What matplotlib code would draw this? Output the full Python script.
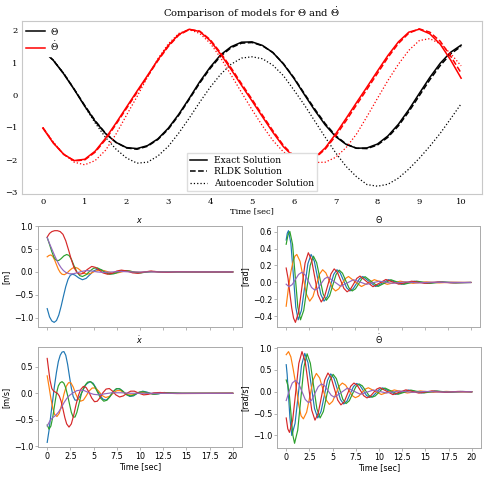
import matplotlib
matplotlib.use('Agg')
import matplotlib.pyplot as plt
from matplotlib.lines import Line2D
from matplotlib.font_manager import FontProperties

# ---------------- top panel: pendulum, 0..10 s ----------------
t_top = [0.0, 0.25, 0.5, 0.75, 1.0, 1.25, 1.5, 1.75, 2.0, 2.25, 2.5, 2.75, 3.0, 3.25,
         3.5, 3.75, 4.0, 4.25, 4.5, 4.75, 5.0, 5.25, 5.5, 5.75, 6.0, 6.25, 6.5, 6.75,
         7.0, 7.25, 7.5, 7.75, 8.0, 8.25, 8.5, 8.75, 9.0, 9.25, 9.5, 9.75, 10.0]
theta_exact = [1.38, 1.07, 0.65, 0.17, -0.34, -0.81, -1.19, -1.46, -1.62, -1.65, -1.56, -1.35,
               -1.02, -0.59, -0.10, 0.41, 0.86, 1.24, 1.49, 1.63, 1.64, 1.53, 1.31, 0.96,
               0.52, 0.02, -0.47, -0.92, -1.28, -1.52, -1.64, -1.63, -1.51, -1.26, -0.90,
               -0.45, 0.05, 0.54, 0.98, 1.32, 1.54]
theta_rldk = [1.38, 1.07, 0.66, 0.18, -0.32, -0.79, -1.18, -1.46, -1.63, -1.67, -1.58, -1.37,
              -1.05, -0.62, -0.13, 0.37, 0.82, 1.20, 1.46, 1.60, 1.62, 1.52, 1.31, 0.97,
              0.54, 0.05, -0.43, -0.88, -1.25, -1.51, -1.64, -1.65, -1.54, -1.30, -0.95,
              -0.51, -0.02, 0.47, 0.91, 1.27, 1.50]
theta_ae = [1.38, 1.08, 0.67, 0.18, -0.35, -0.86, -1.31, -1.67, -1.94, -2.10, -2.07, -1.88,
            -1.58, -1.17, -0.71, -0.22, 0.24, 0.64, 0.95, 1.14, 1.18, 1.12, 0.92, 0.60,
            0.16, -0.30, -0.80, -1.30, -1.78, -2.20, -2.52, -2.76, -2.81, -2.75, -2.56,
            -2.28, -1.95, -1.58, -1.18, -0.73, -0.27]
dtheta_exact = [-1.02, -1.48, -1.83, -2.02, -1.98, -1.73, -1.33, -0.86, -0.37, 0.12, 0.60,
                1.09, 1.53, 1.87, 2.03, 1.96, 1.68, 1.26, 0.79, 0.30, -0.18, -0.67, -1.15,
                -1.59, -1.91, -2.03, -1.93, -1.63, -1.20, -0.72, -0.23, 0.25, 0.74, 1.22,
                1.64, 1.94, 2.03, 1.89, 1.57, 1.08, 0.52]
dtheta_rldk = [-1.00, -1.47, -1.83, -2.03, -2.00, -1.76, -1.37, -0.90, -0.41, 0.08, 0.57,
               1.06, 1.50, 1.85, 2.02, 1.97, 1.71, 1.30, 0.84, 0.35, -0.13, -0.62, -1.10,
               -1.55, -1.88, -2.02, -1.95, -1.67, -1.26, -0.79, -0.30, 0.18, 0.67, 1.16,
               1.59, 1.91, 2.04, 1.94, 1.66, 1.20, 0.68]
dtheta_ae = [-1.00, -1.45, -1.82, -2.07, -2.15, -2.02, -1.70, -1.20, -0.62, -0.05, 0.55,
             1.12, 1.58, 1.90, 2.02, 1.90, 1.60, 1.15, 0.62, 0.08, -0.45, -0.95, -1.40,
             -1.75, -1.97, -2.05, -2.08, -2.07, -1.92, -1.62, -1.20, -0.66, -0.10, 0.45,
             0.95, 1.38, 1.68, 1.74, 1.58, 1.28, 0.90]
top_xticks = [0, 1, 2, 3, 4, 5, 6, 7, 8, 9, 10]

# ---------------- bottom panels: 5 runs each, 0..20 s ----------------
# x [m]
x_t_blue = [0, 0.25, 0.5, 0.75, 1.0, 1.25, 1.5, 1.75, 2.0, 2.25, 2.5, 2.75, 3.0, 3.4, 3.8, 4.2,
            4.6, 5.0, 5.4, 5.8, 6.3, 6.8, 7.3, 7.9, 8.5, 9.1, 9.7, 10.4, 11.2, 12, 14, 20]
x_blue = [-0.8, -0.98, -1.07, -1.1, -1.06, -0.94, -0.75, -0.53, -0.32, -0.16, -0.07, -0.05,
          -0.07, -0.13, -0.17, -0.14, -0.06, 0.02, 0.06, 0.05, 0.0, -0.04, -0.03, 0.02, 0.03,
          0.0, -0.02, -0.01, 0.01, 0, 0, 0]
x_t_orange = [0, 0.2, 0.4, 0.6, 0.8, 1.0, 1.2, 1.4, 1.6, 1.85, 2.1, 2.4, 2.7, 3.0, 3.3, 3.6,
              3.9, 4.3, 4.7, 5.1, 5.6, 6.1, 6.6, 7.1, 7.6, 8.2, 8.8, 9.4, 10.0, 11, 12, 14, 20]
x_orange = [0.33, 0.36, 0.37, 0.34, 0.26, 0.16, 0.06, -0.01, -0.05, -0.06, -0.03, 0.03, 0.08,
            0.1, 0.08, 0.03, -0.02, -0.05, -0.03, 0.01, 0.04, 0.03, 0.0, -0.03, -0.02, 0.01,
            0.02, 0.0, -0.01, 0.01, 0, 0, 0]
x_t_green = [0, 0.25, 0.5, 0.75, 1.0, 1.25, 1.5, 1.8, 2.1, 2.35, 2.6, 2.9, 3.2, 3.5, 3.8, 4.2,
             4.6, 5.0, 5.4, 5.8, 6.2, 6.7, 7.2, 7.7, 8.3, 8.9, 9.5, 10.1, 10.8, 11.6, 12.5, 14, 20]
x_green = [0.75, 0.6, 0.44, 0.31, 0.25, 0.25, 0.29, 0.35, 0.38, 0.36, 0.28, 0.13, 0.0, -0.08,
           -0.1, -0.06, 0.02, 0.08, 0.09, 0.05, -0.01, -0.05, -0.04, 0.0, 0.03, 0.02, -0.01,
           -0.02, 0.0, 0.01, 0, 0, 0]
x_t_red = [0, 0.25, 0.5, 0.8, 1.1, 1.4, 1.7, 2.0, 2.3, 2.6, 2.9, 3.2, 3.5, 3.9, 4.3, 4.8, 5.2,
           5.6, 6.0, 6.5, 7.0, 7.5, 8.0, 8.6, 9.2, 9.8, 10.5, 11.2, 12.0, 13.0, 14.0, 16.0, 20.0]
x_red = [0.76, 0.84, 0.88, 0.9, 0.9, 0.88, 0.82, 0.68, 0.48, 0.27, 0.09, -0.01, -0.05, -0.03,
         0.05, 0.12, 0.1, 0.04, -0.02, -0.05, -0.03, 0.02, 0.04, 0.02, -0.02, -0.03, 0.0, 0.02,
         0.0, -0.01, 0.005, 0, 0]
x_t_purple = [0, 0.25, 0.5, 0.75, 1.0, 1.25, 1.5, 1.75, 2.0, 2.4, 2.8, 3.2, 3.7, 4.2, 4.8, 5.4,
              6.0, 7, 8, 9, 20]
x_purple = [0.75, 0.62, 0.5, 0.38, 0.27, 0.17, 0.09, 0.03, -0.01, -0.04, -0.04, -0.02, 0.01,
            0.03, 0.02, 0.0, -0.01, 0.0, 0.01, 0, 0]

# theta [rad]
th_t_blue = [0, 0.12, 0.25, 0.51, 0.78, 1.04, 1.3, 1.65, 2.0, 2.35, 2.7, 3.05, 3.4, 3.75, 4.1,
             4.45, 4.8, 5.15, 5.5, 5.85, 6.2, 6.55, 6.9, 7.25, 7.6, 7.95, 8.3, 9.0, 9.7, 10.4,
             11.1, 11.8, 12.5, 13.9, 15.3, 16.7, 18.1, 20]
th_blue = [0.5, 0.58, 0.61, 0.46, 0.085, -0.29, -0.44, -0.33, -0.055, 0.22, 0.33, 0.25, 0.055,
           -0.14, -0.22, -0.166, -0.035, 0.096, 0.15, 0.113, 0.025, -0.063, -0.10, -0.075,
           -0.015, 0.045, 0.07, 0.011, -0.048, -0.008, 0.033, 0.006, -0.022, 0.015, -0.01,
           0.006, -0.004, 0]
th_t_orange = [0, 0.25, 0.5, 0.75, 0.95, 1.15, 1.5, 1.85, 2.2, 2.55, 2.9, 3.25, 3.6, 3.95, 4.3,
               4.65, 5.0, 5.35, 5.7, 6.05, 6.4, 6.75, 7.45, 8.15, 8.85, 9.55, 10.25, 10.95,
               12.35, 13.75, 15.15, 16.55, 17.95, 20]
th_orange = [-0.28, -0.06, 0.12, 0.25, 0.31, 0.33, 0.25, 0.055, -0.14, -0.22, -0.166, -0.035,
             0.096, 0.15, 0.113, 0.025, -0.063, -0.10, -0.075, -0.015, 0.045, 0.07, 0.011,
             -0.048, -0.008, 0.033, 0.006, -0.022, 0.015, -0.01, 0.007, -0.005, 0.003, 0]
th_t_green = [0, 0.2, 0.4, 0.69, 0.975, 1.26, 1.55, 1.9, 2.25, 2.6, 2.95, 3.3, 3.65, 4.0, 4.35,
              4.7, 5.05, 5.4, 5.75, 6.1, 6.45, 6.8, 7.15, 7.5, 7.85, 8.2, 8.55, 9.25, 9.95,
              10.65, 11.35, 12.05, 12.75, 14.15, 15.55, 16.95, 18.35, 20]
th_green = [0.45, 0.56, 0.6, 0.45, 0.08, -0.29, -0.44, -0.33, -0.065, 0.2, 0.31, 0.234, 0.05,
            -0.134, -0.21, -0.158, -0.032, 0.093, 0.145, 0.109, 0.022, -0.064, -0.10, -0.075,
            -0.016, 0.044, 0.068, 0.01, -0.047, -0.008, 0.032, 0.005, -0.022, 0.015, -0.01,
            0.006, -0.004, 0]
th_t_red = [0, 0.2, 0.4, 0.6, 0.8, 1.0, 1.35, 1.7, 2.05, 2.4, 2.75, 3.1, 3.45, 3.8, 4.15, 4.5,
            4.85, 5.2, 5.55, 5.9, 6.25, 6.6, 6.95, 7.3, 7.65, 8.0, 8.7, 9.4, 10.1, 10.8, 11.5,
            12.2, 13.6, 15.0, 16.4, 17.8, 20]
th_red = [0.17, 0.05, -0.13, -0.3, -0.42, -0.47, -0.35, -0.06, 0.23, 0.35, 0.265, 0.06, -0.145,
          -0.23, -0.17, -0.035, 0.10, 0.16, 0.12, 0.025, -0.07, -0.11, -0.083, -0.018, 0.048,
          0.075, 0.012, -0.05, -0.008, 0.035, 0.007, -0.02, 0.015, -0.01, 0.006, -0.004, 0]
th_t_purple = [0, 0.3, 0.65, 1.0, 1.35, 1.7, 2.05, 2.4, 2.75, 3.1, 3.45, 3.8, 4.15, 4.5, 5.2,
               5.9, 6.6, 7.3, 8.0, 8.7, 9.4, 10.1, 11.5, 12.9, 14.3, 15.7, 20]
th_purple = [-0.02, -0.05, -0.025, 0.035, 0.095, 0.12, 0.089, 0.015, -0.059, -0.09, -0.068,
             -0.012, 0.043, 0.065, 0.01, -0.045, -0.006, 0.032, 0.005, -0.022, -0.003, 0.015,
             -0.01, 0.007, -0.005, 0.003, 0]

# x dot [m/s]
xd_t_blue = [0, 0.2, 0.4, 0.6, 0.8, 1.0, 1.2, 1.4, 1.6, 1.8, 2.0, 2.2, 2.4, 2.6, 2.8, 3.0, 3.25,
             3.55, 3.85, 4.2, 4.6, 4.95, 5.3, 5.65, 6.0, 6.35, 6.7, 7.05, 7.4, 7.75, 8.1, 8.5,
             8.9, 9.3, 9.8, 10.3, 10.8, 11.4, 12.0, 12.6, 13.3, 14.5, 20]
xd_blue = [-0.93, -0.7, -0.4, -0.12, 0.16, 0.4, 0.6, 0.72, 0.78, 0.79, 0.72, 0.55, 0.32, 0.1,
           -0.06, -0.13, -0.13, -0.05, 0.06, 0.17, 0.22, 0.19, 0.09, -0.03, -0.11, -0.13, -0.08,
           0.01, 0.08, 0.09, 0.05, -0.02, -0.06, -0.05, 0.01, 0.04, 0.02, -0.02, -0.01, 0.015,
           0.005, 0, 0]
xd_t_orange = [0, 0.2, 0.4, 0.6, 0.8, 1.05, 1.3, 1.55, 1.8, 2.05, 2.3, 2.55, 2.8, 3.05, 3.3,
               3.6, 3.9, 4.2, 4.5, 4.85, 5.2, 5.55, 5.9, 6.3, 6.7, 7.1, 7.5, 7.9, 8.3, 8.7, 9.2,
               9.7, 10.2, 10.8, 11.5, 12.5, 14, 20]
xd_orange = [0.33, 0.12, -0.1, -0.28, -0.4, -0.44, -0.38, -0.22, -0.02, 0.13, 0.2, 0.2, 0.12,
             0.0, -0.1, -0.15, -0.13, -0.05, 0.04, 0.1, 0.1, 0.04, -0.04, -0.08, -0.06, 0.0,
             0.05, 0.05, 0.01, -0.03, -0.03, 0.01, 0.02, 0.0, -0.01, 0.005, 0, 0]
xd_t_green = [0, 0.2, 0.4, 0.6, 0.8, 1.0, 1.2, 1.4, 1.6, 1.8, 2.0, 2.2, 2.4, 2.6, 2.8, 3.0, 3.2,
              3.45, 3.7, 4.0, 4.35, 4.7, 5.05, 5.4, 5.75, 6.1, 6.45, 6.8, 7.15, 7.5, 7.85, 8.2,
              8.6, 9.0, 9.4, 9.9, 10.4, 11.0, 11.6, 12.3, 13, 14.5, 20]
xd_green = [-0.6, -0.68, -0.62, -0.45, -0.22, 0.0, 0.14, 0.2, 0.22, 0.19, 0.1, -0.04, -0.2,
            -0.36, -0.45, -0.45, -0.36, -0.18, 0.0, 0.13, 0.21, 0.22, 0.15, 0.03, -0.09, -0.15,
            -0.13, -0.05, 0.04, 0.09, 0.08, 0.03, -0.03, -0.05, -0.03, 0.02, 0.03, 0.0, -0.015,
            0.0, 0.01, 0, 0]
xd_t_red = [0, 0.15, 0.3, 0.5, 0.7, 0.9, 1.1, 1.3, 1.5, 1.7, 1.9, 2.1, 2.35, 2.6, 2.85, 3.1,
            3.35, 3.6, 3.9, 4.2, 4.5, 4.8, 5.1, 5.4, 5.7, 6.0, 6.35, 6.7, 7.05, 7.4, 7.8, 8.2,
            8.6, 9.0, 9.4, 9.9, 10.4, 10.9, 11.5, 12.2, 13, 14, 20]
xd_red = [0.66, 0.45, 0.25, 0.09, 0.04, 0.02, 0.0, -0.05, -0.15, -0.3, -0.46, -0.58, -0.64,
          -0.58, -0.42, -0.22, -0.05, 0.07, 0.13, 0.11, 0.02, -0.09, -0.16, -0.15, -0.08, 0.01,
          0.08, 0.09, 0.04, -0.03, -0.07, -0.05, 0.0, 0.04, 0.04, 0.0, -0.03, -0.02, 0.01,
          0.015, 0, -0.005, 0]
xd_t_purple = [0, 0.3, 0.6, 0.9, 1.2, 1.5, 1.8, 2.1, 2.4, 2.8, 3.2, 3.6, 4.0, 4.5, 5.0, 5.6,
               6.2, 7, 8, 9, 20]
xd_purple = [-0.62, -0.52, -0.46, -0.42, -0.36, -0.28, -0.18, -0.1, -0.04, 0.01, 0.05, 0.06,
             0.05, 0.01, -0.02, -0.03, -0.01, 0.01, 0.01, 0, 0]

# theta dot [rad/s]
thd_t_blue = [0, 0.1, 0.22, 0.4, 0.6, 0.95, 1.3, 1.65, 2.0, 2.35, 2.7, 3.05, 3.4, 3.75, 4.1,
              4.45, 4.8, 5.15, 5.5, 5.85, 6.2, 6.55, 6.9, 7.25, 7.6, 7.95, 8.3, 8.65, 9.0, 9.35,
              9.7, 10.05, 10.4, 11.1, 11.8, 12.5, 13.2, 13.9, 14.6, 16.0, 17.4, 18.8, 20]
thd_blue = [0.62, 0.4, 0.0, -0.6, -1.0, -0.726, -0.06, 0.606, 0.88, 0.664, 0.14, -0.384, -0.6,
            -0.452, -0.095, 0.262, 0.41, 0.309, 0.065, -0.179, -0.28, -0.211, -0.045, 0.121,
            0.19, 0.143, 0.03, -0.083, -0.13, -0.098, -0.02, 0.058, 0.09, 0.015, -0.06, -0.01,
            0.04, 0.007, -0.027, 0.018, -0.012, 0.008, 0]
thd_t_orange = [0, 0.25, 0.5, 0.75, 0.95, 1.15, 1.35, 1.6, 1.85, 2.2, 2.55, 2.9, 3.25, 3.6,
                3.95, 4.3, 4.65, 5.0, 5.35, 5.7, 6.05, 6.4, 6.75, 7.1, 7.45, 7.8, 8.15, 8.5,
                8.85, 9.55, 10.25, 10.95, 11.65, 12.35, 13.05, 14.45, 15.85, 17.25, 18.65, 20]
thd_orange = [0.85, 0.92, 0.8, 0.52, 0.27, 0.0, -0.3, -0.55, -0.62, -0.468, -0.1, 0.268, 0.42,
              0.317, 0.065, -0.187, -0.29, -0.219, -0.045, 0.129, 0.2, 0.151, 0.033, -0.086,
              -0.135, -0.102, -0.022, 0.059, 0.092, 0.015, -0.062, -0.01, 0.042, 0.007, -0.028,
              0.019, -0.013, 0.009, -0.006, 0]
thd_t_green = [0, 0.17, 0.35, 0.55, 0.72, 0.9, 1.24, 1.575, 1.91, 2.25, 2.6, 2.95, 3.3, 3.65,
               4.0, 4.35, 4.7, 5.05, 5.4, 5.75, 6.1, 6.45, 6.8, 7.15, 7.5, 7.85, 8.2, 8.55, 8.9,
               9.25, 9.6, 9.95, 10.3, 10.65, 11.35, 12.05, 12.75, 13.45, 14.15, 14.85, 16.25,
               17.65, 19.05, 20]
thd_green = [0.27, 0.15, -0.1, -0.6, -1.0, -1.18, -0.88, -0.155, 0.571, 0.87, 0.655, 0.135,
             -0.385, -0.6, -0.454, -0.1, 0.254, 0.4, 0.303, 0.065, -0.173, -0.27, -0.205,
             -0.045, 0.115, 0.18, 0.136, 0.028, -0.081, -0.125, -0.095, -0.02, 0.055, 0.085,
             0.014, -0.057, -0.01, 0.038, 0.006, -0.025, 0.016, -0.01, 0.006, 0]
thd_t_red = [0, 0.17, 0.35, 0.69, 1.025, 1.36, 1.7, 2.05, 2.4, 2.75, 3.1, 3.45, 3.8, 4.15, 4.5,
             4.85, 5.2, 5.55, 5.9, 6.25, 6.6, 6.95, 7.3, 7.65, 8.0, 8.35, 8.7, 9.05, 9.4, 9.75,
             10.1, 10.8, 11.5, 12.2, 12.9, 13.6, 14.3, 15.7, 17.1, 18.5, 20]
thd_red = [-0.6, -0.85, -0.93, -0.66, -0.005, 0.65, 0.92, 0.69, 0.135, -0.42, -0.65, -0.49,
           -0.11, 0.27, 0.43, 0.32, 0.065, -0.19, -0.3, -0.23, -0.05, 0.127, 0.2, 0.15, 0.03,
           -0.09, -0.14, -0.106, -0.022, 0.061, 0.095, 0.015, -0.065, -0.01, 0.044, 0.007,
           -0.03, 0.02, -0.013, 0.008, 0]
thd_t_purple = [0, 0.3, 0.65, 1.0, 1.35, 1.7, 2.05, 2.4, 2.75, 3.1, 3.45, 3.8, 4.15, 4.5, 4.85,
                5.2, 5.9, 6.6, 7.3, 8.0, 8.7, 9.4, 10.1, 10.8, 12.2, 13.6, 15.0, 16.4, 20]
thd_purple = [-0.2, 0.0, 0.2, 0.26, 0.185, 0.005, -0.176, -0.25, -0.188, -0.035, 0.117, 0.18,
              0.136, 0.028, -0.081, -0.125, -0.02, 0.085, 0.013, -0.058, -0.009, 0.04, 0.006,
              -0.027, 0.018, -0.012, 0.008, -0.005, 0]

bottom_xticks = [0, 2.5, 5, 7.5, 10, 12.5, 15, 17.5, 20]
bottom_xlabels = ['0', '2.5', '5', '7.5', '10', '12.5', '15', '17.5', '20']

# ---------------- figure ----------------
fig = plt.figure(figsize=(4.99, 4.78), dpi=100)

serif = 'DejaVu Serif'
fs_top = 6.0
fs_leg = 6.5

ax = fig.add_axes([0.044, 0.594, 0.922, 0.362])
ax.plot(t_top, theta_exact, color='black', lw=1.1)
ax.plot(t_top, theta_rldk, color='black', lw=1.1, ls='--')
ax.plot(t_top, theta_ae, color='black', lw=0.9, ls=':')
ax.plot(t_top, dtheta_exact, color='red', lw=1.1)
ax.plot(t_top, dtheta_rldk, color='red', lw=1.1, ls='--')
ax.plot(t_top, dtheta_ae, color='red', lw=0.9, ls=':')
ax.set_xticks(top_xticks)
ax.tick_params(length=0, labelsize=fs_top, pad=3)
for lab in ax.get_xticklabels() + ax.get_yticklabels():
    lab.set_fontfamily(serif)
for sp in ax.spines.values():
    sp.set_color('#c8c8c8')
    sp.set_linewidth(0.8)
ax.set_title(r'Comparison of models for $\Theta$ and $\dot{\Theta}$', fontsize=7.2,
             fontfamily=serif, math_fontfamily='dejavuserif', pad=3)
ax.set_xlabel('Time [sec]', fontsize=fs_top, fontfamily=serif, labelpad=1)

legprop = FontProperties(family=serif, size=fs_leg, math_fontfamily='dejavuserif')
h1 = [Line2D([], [], color='black', lw=1.1), Line2D([], [], color='red', lw=1.1)]
leg1 = ax.legend(h1, [r'$\Theta$', r'$\dot{\Theta}$'], loc='upper left', prop=legprop,
                 framealpha=1, edgecolor='white', borderaxespad=0.2, borderpad=0.3,
                 labelspacing=0.35, handlelength=2.0, handletextpad=0.6)
ax.add_artist(leg1)
h2 = [Line2D([], [], color='black', lw=1.1),
      Line2D([], [], color='black', lw=1.1, ls='--'),
      Line2D([], [], color='black', lw=0.9, ls=':')]
ax.legend(h2, ['Exact Solution', 'RLDK Solution', 'Autoencoder Solution'], loc='lower center',
          prop=legprop, framealpha=1, edgecolor='#dddddd', fancybox=False,
          borderaxespad=0.3, borderpad=0.35, labelspacing=0.3, handlelength=1.9,
          handletextpad=0.7)

panels = [
    ([0.076, 0.316, 0.409, 0.211], r'$x$', '[m]', False,
     [(x_t_blue, x_blue), (x_t_orange, x_orange), (x_t_green, x_green),
      (x_t_red, x_red), (x_t_purple, x_purple)]),
    ([0.555, 0.316, 0.407, 0.211], r'$\Theta$', '[rad]', False,
     [(th_t_blue, th_blue), (th_t_orange, th_orange), (th_t_green, th_green),
      (th_t_red, th_red), (th_t_purple, th_purple)]),
    ([0.076, 0.065, 0.409, 0.209], r'$\dot{x}$', '[m/s]', True,
     [(xd_t_blue, xd_blue), (xd_t_orange, xd_orange), (xd_t_green, xd_green),
      (xd_t_red, xd_red), (xd_t_purple, xd_purple)]),
    ([0.555, 0.063, 0.409, 0.211], r'$\dot{\Theta}$', '[rad/s]', True,
     [(thd_t_blue, thd_blue), (thd_t_orange, thd_orange), (thd_t_green, thd_green),
      (thd_t_red, thd_red), (thd_t_purple, thd_purple)]),
]

fs_b = 5.8
for rect, title, ylab, show_x, series in panels:
    a = fig.add_axes(rect)
    for tt, vv in series:
        a.plot(tt, vv, lw=0.85)
    a.set_xticks(bottom_xticks)
    if show_x:
        a.set_xticklabels(bottom_xlabels)
        a.set_xlabel('Time [sec]', fontsize=fs_b, labelpad=1)
    else:
        a.set_xticklabels([])
    a.set_title(title, fontsize=fs_b, pad=2)
    a.set_ylabel(ylab, fontsize=fs_b, labelpad=2)
    a.tick_params(labelsize=fs_b, length=2, width=0.5, color='#999999', pad=1.5)
    for sp in a.spines.values():
        sp.set_color('#aaaaaa')
        sp.set_linewidth(0.7)

fig.savefig('out.png', dpi=100)
